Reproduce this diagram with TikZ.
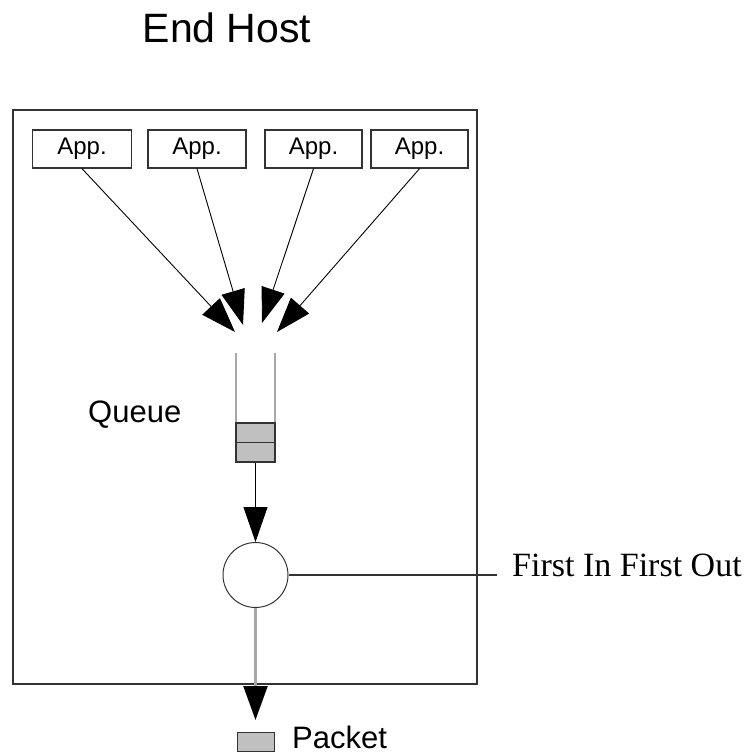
\documentclass[tikz,border=0pt]{standalone}
\usepackage{fontspec}
\setmainfont{Liberation Sans}
\newfontfamily\serifface{Liberation Serif}
\usetikzlibrary{arrows.meta}
\definecolor{boxgray}{HTML}{C0C0C0}
\definecolor{wallgray}{HTML}{A8A8A8}
\definecolor{edgegray}{HTML}{333333}
\begin{document}
\begin{tikzpicture}[x=1pt,y=-1pt,
  appbox/.style={draw=edgegray, line width=1.3pt, minimum height=38pt,
    inner sep=0pt, font=\fontsize{24}{24}\selectfont},
  feed/.style={line width=0.9pt, -{Triangle[length=35pt,width=24pt]}},
  bigtip/.style={-{Triangle[length=34pt,width=24pt,color=black]}},
  label/.style={inner sep=0pt, anchor=base west}]
\useasboundingbox (0,0) rectangle (749,755);

% title
\node[inner sep=0pt, anchor=base, font=\fontsize{41}{41}\selectfont] (title) at (227,42) {End Host};

% host frame
\node[draw=edgegray, line width=1.3pt, minimum width=464pt, minimum height=574pt,
  inner sep=0pt] (host) at (245,397) {};

% applications
\node[appbox, minimum width=99pt] (a1) at (82,149) {App.};
\node[appbox, minimum width=98pt] (a2) at (197,149) {App.};
\node[appbox, minimum width=97pt] (a3) at (313.5,149) {App.};
\node[appbox, minimum width=97pt] (a4) at (419.5,149) {App.};

% arrow tips converging above the queue
\coordinate (t1) at (235,332);
\coordinate (t2) at (243,325);
\coordinate (t3) at (262,323);
\coordinate (t4) at (277,332);
\draw[feed] (a1.south) -- (t1);
\draw[feed] (a2.south) -- (t2);
\draw[feed] (a3.south) -- (t3);
\draw[feed] (a4.south) -- (t4);

% queue tube and stored packets
\coordinate (wl) at (236,353);
\coordinate (wr) at (275,353);
\node[draw=edgegray, fill=boxgray, line width=1.3pt, minimum width=39pt,
  minimum height=39pt, inner sep=0pt] (qbox) at (255.5,442.5) {};
\draw[wallgray, line width=2.2pt] (wl) -- (wl |- qbox.north);
\draw[wallgray, line width=2.2pt] (wr) -- (wr |- qbox.north);
\draw[edgegray, line width=1.3pt] (qbox.west) -- (qbox.east);
\node[label, font=\fontsize{31}{31}\selectfont] (qlabel) at (88,422) {Queue};

% scheduler
\node[draw=edgegray, circle, line width=1pt, minimum size=65pt, inner sep=0pt]
  (fifo) at (255.5,575) {};
\draw[feed] (qbox.south) -- (fifo.north);
\coordinate (lend) at (497,575);
\draw[edgegray, line width=1.2pt] (fifo.east) -- (lend);
\node[label, font=\serifface\fontsize{34}{34}\selectfont] (fifolabel) at (512,576)
  {First In First Out};

% outgoing packet
\coordinate (ptip) at (255.5,720);
\draw[wallgray, line width=2.2pt, bigtip] (fifo.south) -- (ptip);
\node[draw=edgegray, fill=boxgray, line width=1pt, minimum width=37pt,
  minimum height=19pt, inner sep=0pt] (pkt) at (255.5,741.5) {};
\node[label, font=\fontsize{31}{31}\selectfont] (pktlabel) at (292,748) {Packet};
\end{tikzpicture}
\end{document}
